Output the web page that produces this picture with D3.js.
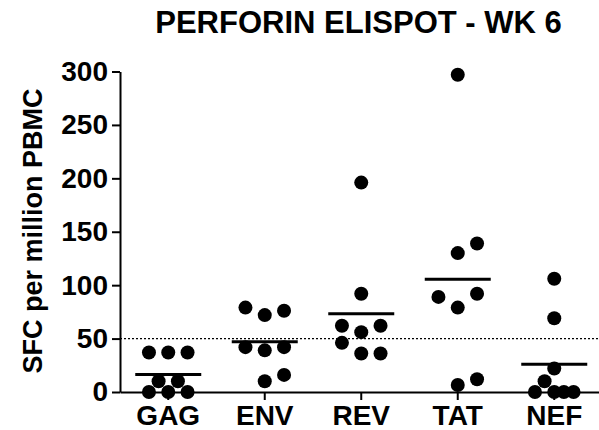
<!DOCTYPE html>
<html>
<head>
<meta charset="utf-8">
<script src="https://cdn.jsdelivr.net/npm/d3@7"></script>
<style>
  body { margin: 0; background: #fff; }
  svg { display: block; font-family: "Liberation Sans", Arial, sans-serif; }
</style>
</head>
<body>
<svg id="chart" width="599" height="430"></svg>
<script>
// chart data
const categories = ["GAG", "ENV", "REV", "TAT", "NEF"];
const gagValues = [0, 0, 0, 10, 10, 37, 37, 37];
const envValues = [10, 16, 39, 42, 42, 72, 76, 79];
const revValues = [36, 36, 46, 56, 62, 62, 92, 196];
const tatValues = [6.5, 12, 79, 92, 89, 130, 139, 297];
const nefValues = [0, 0, 0, 0, 10, 22, 69, 106];
const yTicks = [0, 50, 100, 150, 200, 250, 300];
const refValue = 50;
const titleText = "PERFORIN ELISPOT - WK 6";
const yLabel = "SFC per million PBMC";

const seriesValues = [gagValues, envValues, revValues, tatValues, nefValues];

const width = 599, height = 430;
const svg = d3.select("#chart");

const x = d3.scaleBand()
    .domain(categories)
    .range([120, 602.5])
    .padding(0);

const y = d3.scaleLinear()
    .domain([0, 300])
    .range([392, 71.5]);

const r = 7;
const slot = 19.3;      // horizontal step between spread dots
const minDist = 14.2;   // dots closer than this are spread out
const offsets = [0, 1, -1, 0.5, -0.5];

// simple scatter spreading, similar to the prism column scatter
function spread(values, cx) {
    const placed = [];
    values.forEach(function(v) {
        const py = y(v);
        let best = null, bestD = -1;
        for (let k = 0; k < offsets.length; k++) {
            const px = cx + offsets[k] * slot;
            let dmin = Infinity;
            placed.forEach(function(p) {
                dmin = Math.min(dmin, Math.hypot(p.x - px, p.y - py));
            });
            if (dmin >= minDist) { best = px; break; }
            if (dmin > bestD) { bestD = dmin; best = px; }
        }
        placed.push({x: best, y: py, v: v});
    });
    return placed;
}

const g = svg.append("g");

// dotted reference line at 50
g.append("line")
    .attr("x1", 120).attr("x2", width)
    .attr("y1", y(refValue)).attr("y2", y(refValue))
    .attr("stroke", "#000")
    .attr("stroke-width", 1.2)
    .attr("stroke-dasharray", "2,2");

// y axis
const yAxis = g.append("g")
    .attr("transform", "translate(120,0)")
    .call(d3.axisLeft(y).tickValues(yTicks).tickSize(8).tickSizeOuter(0).tickPadding(4));
yAxis.select(".domain").attr("stroke", "#000").attr("stroke-width", 2);
yAxis.selectAll(".tick line").attr("stroke", "#000").attr("stroke-width", 2);
yAxis.selectAll(".tick text")
    .attr("fill", "#000")
    .style("font-size", "28px")
    .style("font-weight", "bold")
    .style("font-family", "'Liberation Sans', Arial, sans-serif");

// x axis
const xAxis = g.append("g")
    .attr("transform", "translate(0,392)")
    .call(d3.axisBottom(x).tickSize(8).tickSizeOuter(0));
xAxis.select(".domain").attr("stroke", "#000").attr("stroke-width", 2);
xAxis.selectAll(".tick line").attr("stroke", "#000").attr("stroke-width", 2);
xAxis.selectAll(".tick text")
    .attr("fill", "#000")
    .attr("y", 33)
    .attr("dy", 0)
    .style("font-size", "28px")
    .style("font-weight", "bold")
    .style("font-family", "'Liberation Sans', Arial, sans-serif");

// points and mean lines
categories.forEach(function(cat, i) {
    const cx = x(cat) + x.bandwidth() / 2;
    const pts = spread(seriesValues[i], cx);
    const mean = d3.mean(seriesValues[i]);

    g.append("line")
        .attr("x1", cx - 33).attr("x2", cx + 33)
        .attr("y1", y(mean)).attr("y2", y(mean))
        .attr("stroke", "#000")
        .attr("stroke-width", 3);

    g.selectAll(".dot-" + i)
        .data(pts)
        .join("circle")
        .attr("class", "dot-" + i)
        .attr("cx", function(d) { return d.x; })
        .attr("cy", function(d) { return d.y; })
        .attr("r", r)
        .attr("fill", "#000");
});

// title
svg.append("text")
    .attr("x", 358.5)
    .attr("y", 33)
    .attr("text-anchor", "middle")
    .style("font-size", "31px")
    .style("font-weight", "bold")
    .text(titleText);

// y label
svg.append("text")
    .attr("transform", "translate(42," + 231 + ") rotate(-90)")
    .attr("text-anchor", "middle")
    .style("font-size", "27px")
    .style("font-weight", "bold")
    .text(yLabel);
</script>
</body>
</html>
